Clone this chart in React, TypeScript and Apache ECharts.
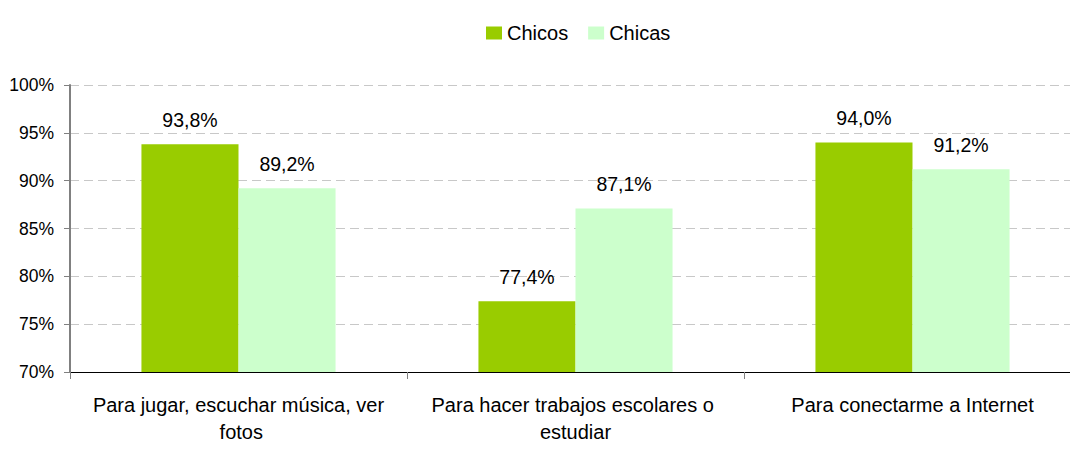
import React, { useEffect, useRef } from "react";
import * as echarts from "echarts";

const categories = [
  "Para jugar, escuchar música, ver fotos",
  "Para hacer trabajos escolares o estudiar",
  "Para conectarme a Internet",
];
const chicos = [93.8, 77.4, 94.0];
const chicas = [89.2, 87.1, 91.2];
const seriesNames = ["Chicos", "Chicas"];

const FONT = "'Liberation Sans', Arial, sans-serif";

export default function App() {
  const ref = useRef<HTMLDivElement>(null);
  useEffect(() => {
    if (!ref.current) return;
    const chart = echarts.init(ref.current, null, { renderer: "svg" });
    const fmt = (p: any) => p.value.toFixed(1).replace(".", ",") + "%";
    chart.setOption({
      animation: false,
      textStyle: { fontFamily: FONT },
      legend: {
        data: seriesNames,
        left: 481,
        top: 18,
        itemWidth: 16,
        itemHeight: 13,
        itemGap: 20,
        icon: "rect",
        textStyle: { fontFamily: FONT, fontSize: 20, color: "#000" },
      },
      grid: { left: 70, top: 85, width: 1011, height: 287 },
      xAxis: {
        type: "category",
        data: categories,
        axisLine: { lineStyle: { color: "#000", width: 1 } },
        axisTick: { show: true, length: 7, lineStyle: { color: "#808080" } },
        axisLabel: {
          fontFamily: FONT,
          fontSize: 20,
          color: "#000",
          lineHeight: 27,
          margin: 19,
          width: 305,
          overflow: "break",
          interval: 0,
        },
      },
      yAxis: {
        type: "value",
        min: 70,
        max: 100,
        interval: 5,
        axisLine: { show: true, lineStyle: { color: "#808080", width: 2 } },
        axisTick: { show: true, length: 6, lineStyle: { color: "#808080" } },
        axisLabel: {
          formatter: "{value}%",
          fontFamily: FONT,
          fontSize: 17.5,
          color: "#000",
          margin: 16,
        },
        splitLine: { lineStyle: { color: "#c8c8c8", type: [9, 5] } },
      },
      series: [
        {
          name: seriesNames[0],
          type: "bar",
          data: chicos,
          barGap: "0%",
          barCategoryGap: "42.4%",
          itemStyle: { color: "#99cc00" },
          label: { show: true, position: "top", distance: 14, formatter: fmt, fontFamily: FONT, fontSize: 19.5, color: "#000" },
        },
        {
          name: seriesNames[1],
          type: "bar",
          data: chicas,
          barGap: "0%",
          barCategoryGap: "42.4%",
          itemStyle: { color: "#ccffcc" },
          label: { show: true, position: "top", distance: 14, formatter: fmt, fontFamily: FONT, fontSize: 19.5, color: "#000" },
        },
      ],
    });
    return () => chart.dispose();
  }, []);
  return <div ref={ref} style={{ position: "fixed", left: 0, top: 0, width: 1100, height: 449, background: "#fff" }} />;
}
